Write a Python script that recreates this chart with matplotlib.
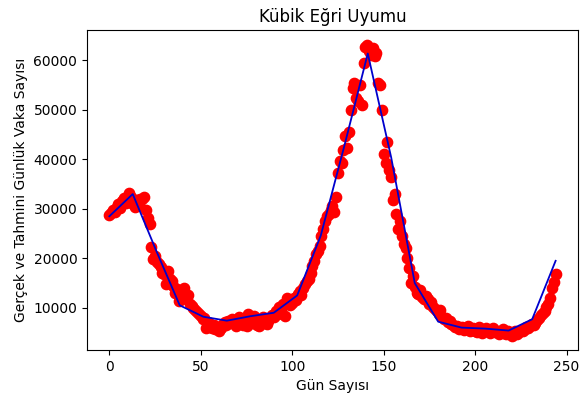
import matplotlib
matplotlib.use("Agg")
import matplotlib.pyplot as plt
import numpy as np

# Observed daily cases (day 0 .. 244)
cases = [
    28800, 29200, 29800, 29400, 30300, 30900, 30100, 31600, 32200, 31200,
    32700, 33300, 32500, 31000, 30400, 31800, 30800, 31900, 32000, 32300,
    29700, 28200, 27000, 22200, 19900, 20500, 19300, 18900, 18200, 17000,
    16800, 14900, 17500, 15800, 15500, 14500, 13000, 13900, 11400, 12800,
    12200, 14100, 11800, 12500, 10800, 10400, 10000, 9600, 9200, 8800,
    8400, 7800, 8000, 6000, 7200, 6800, 6000, 6500, 5800, 6200,
    5400, 6000, 6700, 7200, 6500, 7400, 6900, 7800, 7100, 6300,
    7600, 8200, 7300, 6600, 7800, 6400, 8800, 7500, 6900, 8300,
    7600, 6600, 6400, 7700, 8100, 7000, 6700, 7400, 7900, 8600,
    8200, 9300, 8700, 10200, 9600, 10800, 8400, 12000, 11300, 10500,
    11000, 12000, 11500, 12800, 13500, 12500, 14000, 14900, 15500, 15900,
    17000, 18500, 19500, 20900, 21500, 22500, 24500, 26000, 27500, 28500,
    29000, 29700, 30500, 29300, 32300, 37300, 39700, 39200, 41800, 44800,
    42400, 45500, 49900, 54500, 55400, 52500, 51900, 55000, 50900, 59400,
    62800, 63200, 62000, 61200, 62500, 60800, 61500, 55500, 55000, 49900,
    41000, 39200, 43500, 37800, 36500, 31700, 33000, 29000, 26000, 27500,
    24500, 23000, 22000, 20000, 18000, 15000, 16500, 14200, 13000, 12800,
    13600, 12200, 11800, 12400, 11800, 10800, 11200, 10200, 9800, 9300,
    8800, 9500, 8200, 7800, 8000, 7200, 7400, 6800, 6500, 6100,
    6300, 5700, 5900, 6200, 5500, 5800, 6400, 5300, 5600, 6000,
    5400, 5200, 6100, 5700, 5000, 5500, 5900, 5300, 4900, 5600,
    6000, 5200, 5400, 4800, 5100, 5700, 5000, 4700, 5300, 4900,
    4400, 5000, 5400, 4800, 5200, 5600, 5300, 5800, 6100, 6000,
    6300, 6800, 6500, 7000, 7500, 8000, 8600, 9000, 9400, 10200,
    10800, 12000, 14000, 15200, 16900,
]
days = list(range(len(cases)))

# Cubic fit evaluated at coarse points
fit_days = [0, 12.8, 25.7, 38.5, 51.4, 64.2, 77.1, 89.9, 102.7, 115.6,
            128.4, 141.3, 154.1, 167.0, 179.8, 192.6, 205.5, 218.3, 231.2, 244]
fit_vals = [28500, 33000, 21500, 10500, 8200, 7400, 8300, 9000, 12500, 24600,
            42600, 61400, 40400, 15000, 7200, 6000, 5800, 5400, 7700, 19500]

fig = plt.figure(figsize=(5.82, 4.01), dpi=100)
ax = fig.add_axes([0.1495, 0.127, 0.8435, 0.798])
ax.scatter(days, cases, color="red", s=55)
ax.plot(fit_days, fit_vals, color="mediumblue", linewidth=1.3)
ax.set_title("Kübik Eğri Uyumu")
ax.set_xlabel("Gün Sayısı")
ax.set_ylabel("Gerçek ve Tahmini Günlük Vaka Sayısı")
fig.savefig("out.png", dpi=100)
